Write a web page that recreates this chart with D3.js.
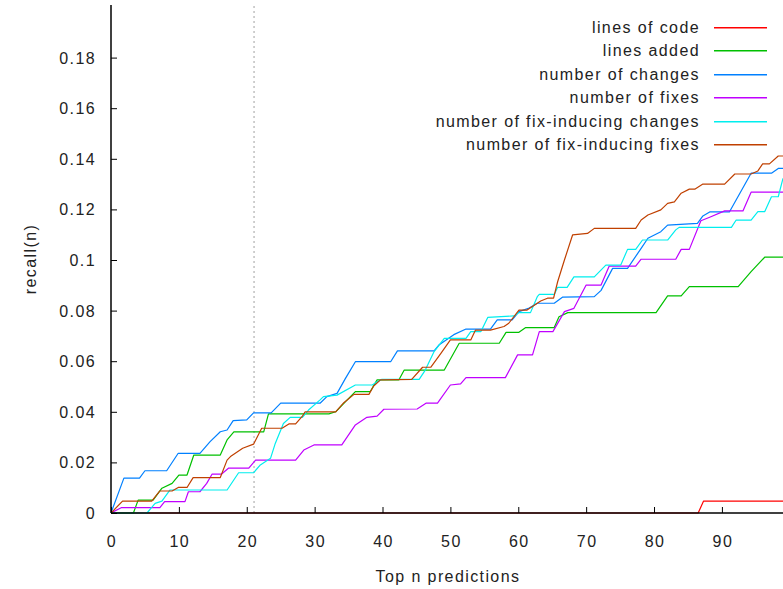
<!DOCTYPE html>
<html>
<head>
<meta charset="utf-8">
<script src="https://cdn.jsdelivr.net/npm/d3@7"></script>
<style>
  body { margin: 0; background: #fff; }
  svg { display: block; font-family: "Liberation Sans", Arial, sans-serif; }
</style>
</head>
<body>
<div id="chart"></div>
<script>
// series names, in legend order
const seriesNames = [
  "lines of code",
  "lines added",
  "number of changes",
  "number of fixes",
  "number of fix-inducing changes",
  "number of fix-inducing fixes"
];
const seriesColors = ["#ff0000", "#00c000", "#0080ff", "#c000ff", "#00eeee", "#c04000"];

// [n, recall] corners of each curve
const linesOfCode = [[0, 0], [86.5, 0], [87.3, 0.0047], [99, 0.0047]];

const linesAdded = [
  [0, 0], [3.3, 0], [4.0, 0.0051], [6.2, 0.0051], [7.5, 0.0098], [9.0, 0.0117], [10.0, 0.015],
  [11.2, 0.015], [12.2, 0.0229], [16.1, 0.0229], [17.1, 0.0289], [18.1, 0.0321], [22.5, 0.0321],
  [23.2, 0.0392], [32.1, 0.0392], [33.1, 0.04], [34.8, 0.0447], [36.0, 0.048], [38.2, 0.048],
  [39.2, 0.0526], [42.4, 0.0526], [43.2, 0.0565], [49.1, 0.0565], [51.3, 0.0671], [57.2, 0.0671],
  [58.2, 0.0714], [60.1, 0.0714], [61.1, 0.0733], [65.3, 0.0733], [66.0, 0.0776], [67.3, 0.0792],
  [80.3, 0.0792], [82.0, 0.0858], [84.0, 0.0858], [85.2, 0.0895], [92.4, 0.0895], [94.3, 0.0954],
  [96.3, 0.1011], [99, 0.1011]
];

const numberOfChanges = [
  [0, 0], [1.9, 0.0138], [4.2, 0.0138], [5.0, 0.0167], [8.2, 0.0167], [9.9, 0.0236], [13.1, 0.0236],
  [14.6, 0.0282], [16.1, 0.0321], [17.1, 0.0328], [18.0, 0.0365], [20.0, 0.0368], [21.0, 0.0396],
  [23.6, 0.0396], [25.0, 0.0434], [30.8, 0.0434], [31.8, 0.046], [33.3, 0.0473], [34.5, 0.053],
  [36.0, 0.0598], [41.2, 0.0598], [42.2, 0.0641], [47.6, 0.0641], [48.3, 0.0664], [50.5, 0.0705],
  [52.3, 0.0727], [55.9, 0.0727], [56.9, 0.0763], [59.1, 0.0763], [60.1, 0.0796], [61.6, 0.081],
  [62.8, 0.0829], [65.3, 0.0829], [66.5, 0.0853], [71.2, 0.0855], [72.2, 0.088], [73.9, 0.0967],
  [76.1, 0.0967], [78.1, 0.1046], [79.1, 0.1086], [81.0, 0.1112], [82.0, 0.1138], [86.4, 0.1145],
  [87.2, 0.1174], [88.2, 0.119], [91.1, 0.119], [94.3, 0.1343], [97.3, 0.1343], [98.3, 0.1362],
  [99, 0.1362]
];

const numberOfFixes = [
  [0, 0], [1.5, 0.0021], [7.2, 0.0021], [7.9, 0.0045], [10.9, 0.0045], [11.4, 0.0084], [13.1, 0.0084],
  [14.1, 0.0117], [14.9, 0.0154], [16.3, 0.0154], [17.3, 0.0177], [20.3, 0.0177], [21.3, 0.0209],
  [27.2, 0.0209], [28.4, 0.0249], [29.9, 0.0269], [34.0, 0.0269], [36.0, 0.0348], [37.7, 0.0378],
  [39.2, 0.0383], [40.2, 0.041], [45.1, 0.0411], [46.4, 0.0434], [48.1, 0.0434], [50.0, 0.0506],
  [51.5, 0.051], [52.3, 0.0535], [58.1, 0.0535], [59.9, 0.0625], [62.1, 0.0625], [63.1, 0.0717],
  [65.1, 0.0717], [66.8, 0.0796], [68.2, 0.0809], [70.0, 0.0901], [72.2, 0.0901], [73.4, 0.0976],
  [77.3, 0.0976], [78.1, 0.1003], [83.2, 0.1003], [84.0, 0.1042], [85.2, 0.1042], [86.9, 0.1155],
  [88.2, 0.1169], [90.4, 0.1194], [93.1, 0.1194], [94.3, 0.1268], [99, 0.1268]
];

const fixInducingChanges = [
  [0, 0], [5.3, 0], [6.5, 0.0038], [7.5, 0.0047], [8.7, 0.0091], [17.1, 0.0091], [18.8, 0.0159],
  [21.0, 0.0159], [22.0, 0.019], [23.5, 0.0216], [24.2, 0.0275], [25.4, 0.0354], [26.4, 0.0378],
  [28.2, 0.0378], [29.1, 0.0407], [30.8, 0.0447], [31.3, 0.046], [33.3, 0.0466], [36.0, 0.0506],
  [38.5, 0.0506], [39.2, 0.0519], [39.9, 0.0528], [45.4, 0.0528], [46.3, 0.0565], [47.6, 0.0638],
  [49.1, 0.069], [52.3, 0.069], [53.0, 0.0717], [54.5, 0.0717], [55.5, 0.0773], [59.4, 0.0779],
  [60.1, 0.0792], [61.8, 0.0792], [62.8, 0.0855], [63.1, 0.0864], [65.3, 0.0864], [65.8, 0.0892],
  [67.2, 0.0892], [68.2, 0.0933], [71.2, 0.0933], [72.9, 0.098], [75.1, 0.098], [76.1, 0.1042],
  [77.3, 0.1042], [78.3, 0.1079], [82.0, 0.1079], [83.2, 0.1119], [83.7, 0.1129], [91.4, 0.1129],
  [92.1, 0.1158], [94.3, 0.1158], [95.3, 0.1191], [96.3, 0.1191], [97.3, 0.125], [98.3, 0.125],
  [99, 0.1323]
];

const fixInducingFixes = [
  [0, 0], [1.7, 0.0047], [6.0, 0.0047], [7.2, 0.0087], [9.0, 0.0087], [9.9, 0.0101], [11.2, 0.0101],
  [12.1, 0.014], [16.1, 0.014], [17.1, 0.0209], [17.6, 0.0223], [19.4, 0.0256], [21.0, 0.0272],
  [22.2, 0.0335], [25.2, 0.0335], [26.2, 0.0352], [27.2, 0.0352], [28.2, 0.0383], [28.6, 0.04],
  [33.1, 0.04], [34.3, 0.0436], [35.8, 0.0469], [38.0, 0.0469], [38.7, 0.0502], [39.7, 0.0526],
  [44.3, 0.0528], [45.9, 0.0576], [47.1, 0.0576], [48.6, 0.0631], [50.0, 0.0684], [53.0, 0.0684],
  [53.7, 0.0723], [55.9, 0.0723], [57.9, 0.0737], [58.6, 0.075], [60.1, 0.0802], [61.3, 0.0802],
  [63.3, 0.0838], [64.3, 0.0849], [65.2, 0.0849], [65.8, 0.0914], [66.8, 0.1], [68.0, 0.1099],
  [70.2, 0.1105], [71.2, 0.1125], [77.3, 0.1125], [78.1, 0.1158], [79.1, 0.1178], [81.0, 0.1198],
  [82.0, 0.1224], [83.0, 0.123], [84.0, 0.1264], [85.2, 0.128], [86.0, 0.128], [87.2, 0.13],
  [90.4, 0.13], [91.9, 0.134], [94.3, 0.134], [95.3, 0.1352], [96.0, 0.138], [97.0, 0.138],
  [98.3, 0.1411], [99, 0.1411]
];

const allSeries = [linesOfCode, linesAdded, numberOfChanges, numberOfFixes, fixInducingChanges, fixInducingFixes];

const xTicks = [0, 10, 20, 30, 40, 50, 60, 70, 80, 90];
const yTicks = [0, 0.02, 0.04, 0.06, 0.08, 0.1, 0.12, 0.14, 0.16, 0.18];
const markerN = 21; // dotted vertical line

const width = 783;
const height = 589;
const margin = { top: 5, right: 0, bottom: 76, left: 111 };

const svg = d3.select("#chart").append("svg")
  .attr("width", width)
  .attr("height", height);

const x = d3.scaleLinear().domain([0, 99]).range([margin.left, width - margin.right]);
const y = d3.scaleLinear().domain([0, 0.2]).range([height - margin.bottom, margin.top + 2]);

const x0 = x(0), y0 = y(0);

// plot area clip
svg.append("clipPath").attr("id", "plot")
  .append("rect")
  .attr("x", x0).attr("y", margin.top)
  .attr("width", width - x0).attr("height", y0 - margin.top + 1);

// dotted marker line
svg.append("line")
  .attr("x1", x(markerN) + 0.5).attr("x2", x(markerN) + 0.5)
  .attr("y1", y0).attr("y2", margin.top)
  .attr("stroke", "#a0a0a0")
  .attr("stroke-width", 1)
  .attr("stroke-dasharray", "2,3");

// curves
const line = d3.line().x(d => x(d[0])).y(d => y(d[1]));

svg.append("g")
  .attr("clip-path", "url(#plot)")
  .selectAll("path")
  .data(allSeries)
  .join("path")
  .attr("d", line)
  .attr("fill", "none")
  .attr("stroke", (d, i) => seriesColors[i])
  .attr("stroke-width", 1.2)
  .attr("stroke-linejoin", "round");

// axes (ticks point inward, like gnuplot)
const xAxis = svg.append("g")
  .attr("transform", `translate(0,${y0})`)
  .call(d3.axisTop(x).tickValues(xTicks).tickSize(6).tickFormat(""));
xAxis.select(".domain").remove();
xAxis.selectAll("line").attr("stroke", "#000");

const yAxis = svg.append("g")
  .attr("transform", `translate(${x0},0)`)
  .call(d3.axisRight(y).tickValues(yTicks).tickSize(6).tickFormat(""));
yAxis.select(".domain").remove();
yAxis.selectAll("line").attr("stroke", "#000");

svg.append("line")
  .attr("x1", x0).attr("x2", width)
  .attr("y1", y0).attr("y2", y0)
  .attr("stroke", "#000").attr("stroke-width", 1.5);
svg.append("line")
  .attr("x1", x0).attr("x2", x0)
  .attr("y1", margin.top).attr("y2", y0)
  .attr("stroke", "#000").attr("stroke-width", 1.5);

// tick labels
const labelStyle = sel => sel
  .attr("font-size", 16)
  .attr("letter-spacing", 1.4)
  .attr("fill", "#222");

svg.append("g").selectAll("text")
  .data(xTicks)
  .join("text")
  .attr("x", d => x(d) + 1)
  .attr("y", y0 + 34)
  .attr("text-anchor", "middle")
  .text(d => d)
  .call(labelStyle);

svg.append("g").selectAll("text")
  .data(yTicks)
  .join("text")
  .attr("x", x0 - 15)
  .attr("y", d => y(d) + 6)
  .attr("text-anchor", "end")
  .text(d => d)
  .call(labelStyle);

// axis titles
svg.append("text")
  .attr("x", 448)
  .attr("y", 582)
  .attr("text-anchor", "middle")
  .text("Top n predictions")
  .call(labelStyle);

svg.append("text")
  .attr("transform", `translate(36,${(margin.top + y0) / 2}) rotate(-90)`)
  .attr("text-anchor", "middle")
  .text("recall(n)")
  .call(labelStyle);

// legend
const legend = svg.append("g").selectAll("g")
  .data(seriesNames)
  .join("g")
  .attr("transform", (d, i) => `translate(0,${Math.round(27 + i * 23.4)})`);

legend.append("text")
  .attr("x", 700)
  .attr("y", 6)
  .attr("text-anchor", "end")
  .text(d => d)
  .call(labelStyle);

legend.append("rect")
  .attr("x", 714).attr("y", 0)
  .attr("width", 53).attr("height", 1.5)
  .attr("fill", (d, i) => seriesColors[i]);
</script>
</body>
</html>
